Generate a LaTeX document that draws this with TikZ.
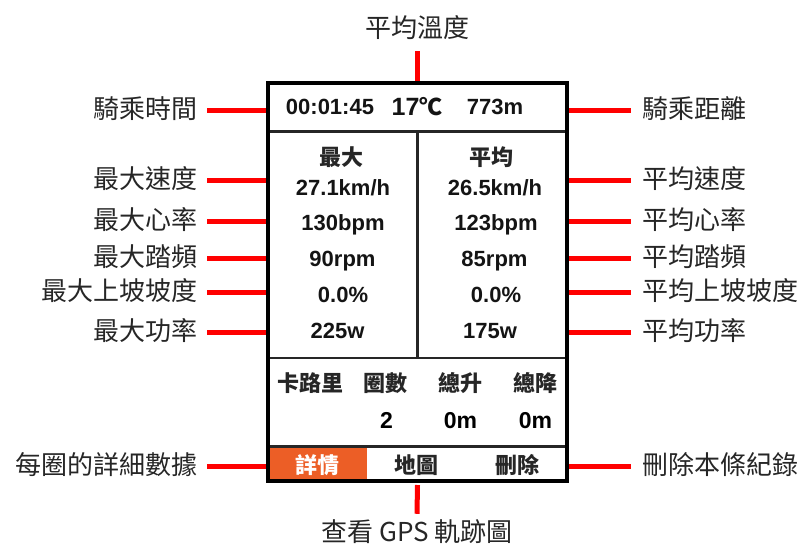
\documentclass[tikz,border=0pt]{standalone}
\usepackage{fontspec}
\setmainfont{Noto Sans CJK TC}
\newfontfamily\cjk{Noto Sans CJK TC}
\newfontfamily\arialf{Liberation Sans}
\definecolor{navorange}{RGB}{236,94,38}
\definecolor{callred}{RGB}{255,0,0}
\begin{document}
\begin{tikzpicture}[x=1pt,y=-1pt,
  lab/.style={font=\cjk\fontsize{26}{26}\selectfont, inner sep=0pt, text=black!85},
  num/.style={font=\arialf\bfseries\fontsize{22}{22}\selectfont, inner sep=0pt, text height=16pt, text depth=0pt, text=black!92},
  bignum/.style={font=\arialf\bfseries\fontsize{23}{23}\selectfont, inner sep=0pt, text height=16.5pt, text depth=0pt},
  hd/.style={font=\cjk\bfseries\fontsize{22}{22}\selectfont, inner sep=0pt, text=black!85},
  callout/.style={draw=callred, line width=5pt},
  frame/.style={draw=black, line width=3.5pt, outer sep=0pt, minimum width=299pt, minimum height=398pt, inner sep=0pt},
  divider/.style={draw=black!85, line width=2.5pt}
]
\useasboundingbox (0,0) rectangle (803,546);

% nav highlight
\fill[navorange] (269,447) rectangle (367,480);

% dividers
\draw[divider] (268,131.5) -- (567,131.5);
\draw[divider] (417.5,131.5) -- (417.5,358);
\draw[divider] (268,358) -- (567,358);
\draw[divider] (268,446.5) -- (567,446.5);

% panel frame
\node[frame] (panel) at (417.5,282) {};

% header row
\node[num,font=\arialf\bfseries\fontsize{22}{22}\selectfont] (time) at (330,106) {00:01:45};
\node[num,text height=18pt,font=\arialf\bfseries\fontsize{25}{25}\selectfont] (temp) at (417,106) {17{\cjk\bfseries\fontsize{23}{23}\selectfont ℃}};
\node[num,font=\arialf\bfseries\fontsize{22}{22}\selectfont] (dist) at (495,106) {773m};

% middle section
\node[hd] (hmax) at (341.5,157) {最大};
\node[hd] (havg) at (491.5,157) {平均};
\node[num] (v1) at (343,187) {27.1km/h};
\node[num] (w1) at (495,187) {26.5km/h};
\node[num] (v2) at (343,222) {130bpm};
\node[num] (w2) at (496,222) {123bpm};
\node[num] (v3) at (342.5,258) {90rpm};
\node[num] (w3) at (494.5,258) {85rpm};
\node[num] (v4) at (343,294) {0.0\%};
\node[num] (w4) at (496,294) {0.0\%};
\node[num] (v5) at (337.5,330) {225w};
\node[num] (w5) at (490,330) {175w};

% bottom stats
\node[hd] (cal) at (310.5,383) {卡路里};
\node[hd] (laps) at (385.5,383) {圈數};
\node[hd] (up) at (460,383) {總升};
\node[hd] (down) at (535.5,383) {總降};
\node[bignum] (lapsv) at (386.5,420) {2};
\node[bignum] (upv) at (460.5,420) {0m};
\node[bignum] (downv) at (535.5,420) {0m};

% nav bar
\node[hd,text=white] (nav1) at (317.5,465) {詳情};
\node[hd] (nav2) at (416.5,465) {地圖};
\node[hd] (nav3) at (517,465) {刪除};

% callout labels
\node[lab] (top) at (417.5,28) {平均溫度};
\node[lab] (bot) at (417,532) {查看 GPS 軌跡圖};
\node[lab,anchor=east] (L1) at (198,109) {騎乘時間};
\node[lab,anchor=east] (L2) at (198,179) {最大速度};
\node[lab,anchor=east] (L3) at (198,220) {最大心率};
\node[lab,anchor=east] (L4) at (198,257) {最大踏頻};
\node[lab,anchor=east] (L5) at (198,291) {最大上坡坡度};
\node[lab,anchor=east] (L6) at (198,331) {最大功率};
\node[lab,anchor=east] (L7) at (198,465) {每圈的詳細數據};
\node[lab,anchor=west] (R1) at (642,109) {騎乘距離};
\node[lab,anchor=west] (R2) at (642,179) {平均速度};
\node[lab,anchor=west] (R3) at (642,220) {平均心率};
\node[lab,anchor=west] (R4) at (642,257) {平均踏頻};
\node[lab,anchor=west] (R5) at (642,291) {平均上坡坡度};
\node[lab,anchor=west] (R6) at (642,331) {平均功率};
\node[lab,anchor=west] (R7) at (642,465) {刪除本條紀錄};

% connectors
\foreach \n/\y in {L1/110,L2/180,L3/221,L4/258,L5/292,L6/332,L7/466}{
  \draw[callout] (panel.west |- {(0,\y)}) -- ([xshift=9pt]\n.east |- {(0,\y)});
}
\foreach \n/\y in {R1/110,R2/180,R3/221,R4/258,R5/292,R6/332,R7/466}{
  \draw[callout] ([xshift=2pt]panel.east |- {(0,\y)}) -- ([xshift=-11pt]\n.west |- {(0,\y)});
}
\draw[callout] (panel.north) -- ([yshift=-11pt]top.south);
\draw[callout] ([yshift=-4pt]panel.south) -- ([yshift=6pt]bot.north);

% redraw frame on top
\draw[black, line width=3.5pt] (panel.north west) rectangle (panel.south east);
\end{tikzpicture}
\end{document}
